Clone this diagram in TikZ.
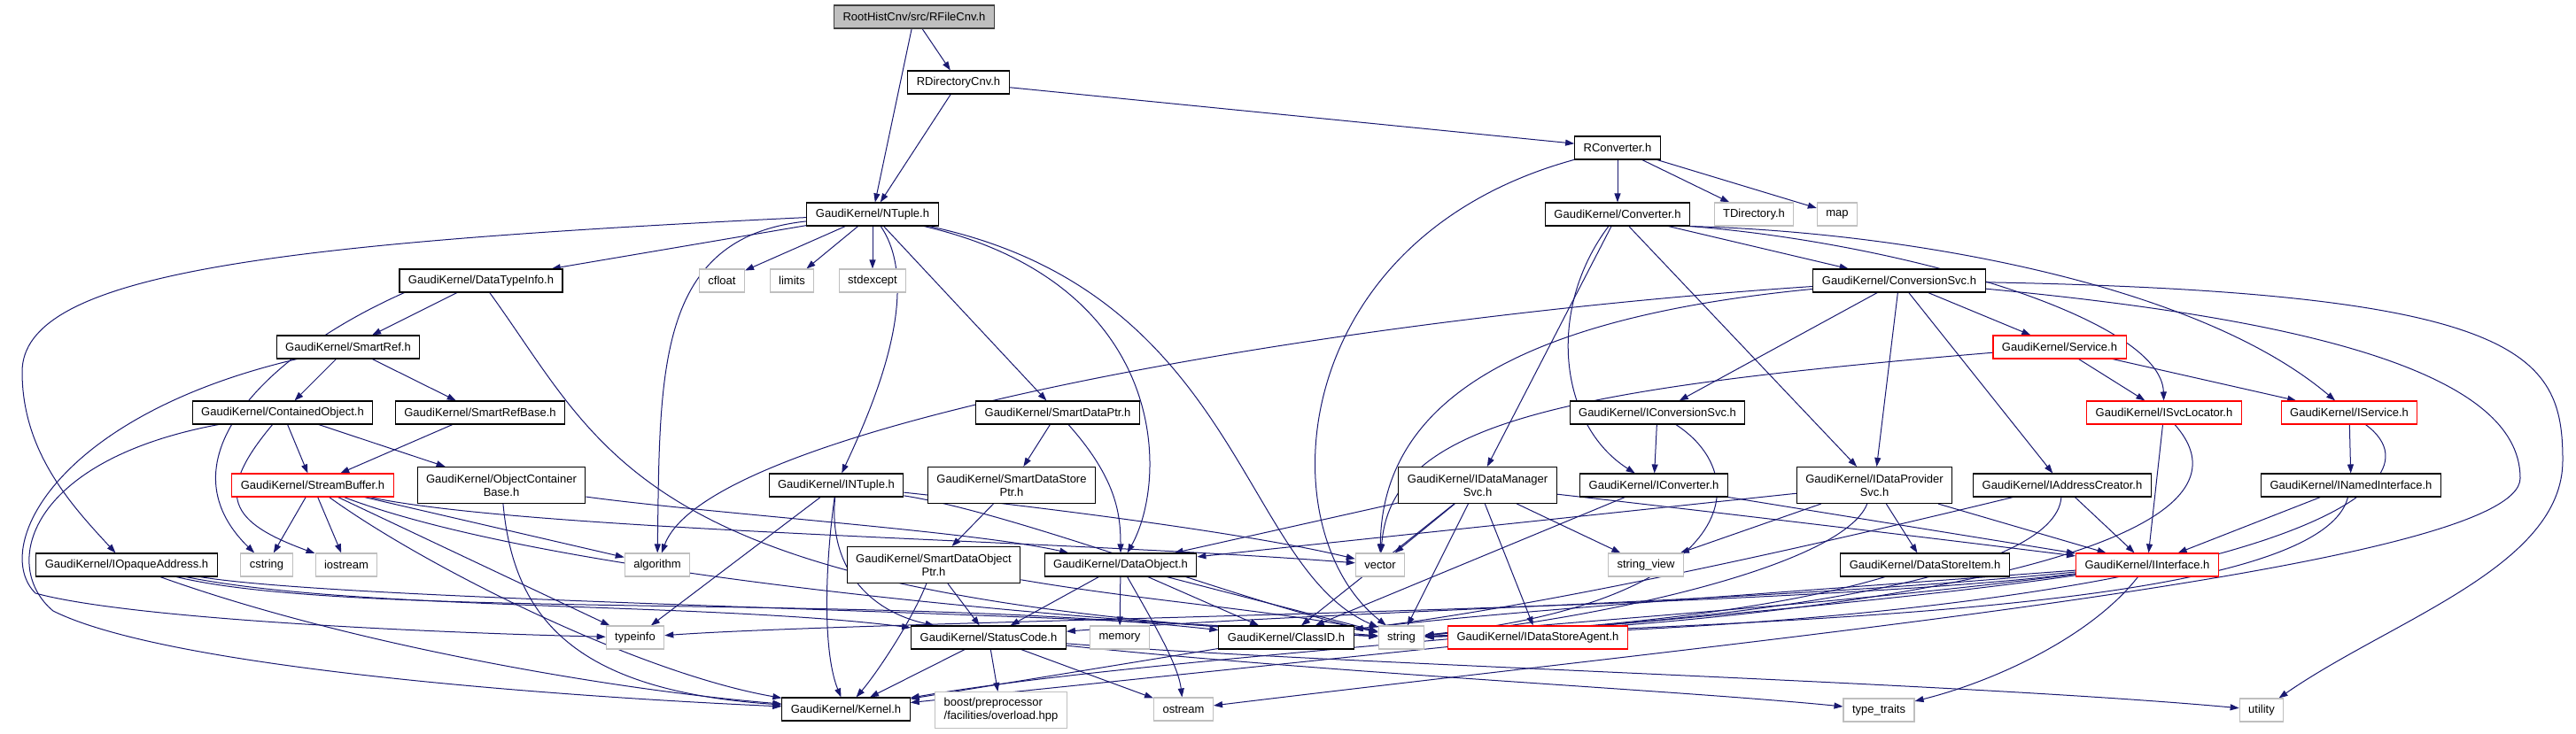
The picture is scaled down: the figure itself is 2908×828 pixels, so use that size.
\documentclass[tikz,border=0pt]{standalone}
\usepackage{fontspec}
\setmainfont{Liberation Sans}
\usetikzlibrary{arrows.meta, backgrounds}

\definecolor{edgeblue}{HTML}{191970}
\definecolor{sysgray}{HTML}{BFBFBF}
\definecolor{topdraw}{HTML}{404040}

\tikzset{
  hdr/.style={draw=black, rectangle, line width=1.1pt, fill=white,
    inner xsep=10pt, minimum height=26pt, font=\fontsize{13}{15}\selectfont},
  sys/.style={hdr, draw=sysgray},
  trunc/.style={hdr, draw=red},
  root/.style={hdr, fill=sysgray, draw=topdraw},
  twoline/.style={minimum height=41pt, align=center},
  dep/.style={draw=edgeblue, line width=1pt,
    -{Triangle[length=10pt, width=7pt, fill=edgeblue]}}
}

\begin{document}
\begin{tikzpicture}[x=1pt, y=-1pt]
  \useasboundingbox (0,0) rectangle (2908,828);

  % top rows
  \node[root] (rfile) at (1032,19) {RootHistCnv/src/RFileCnv.h};
  \node[hdr] (rdir) at (1082,93) {RDirectoryCnv.h};
  \node[hdr] (rconv) at (1826,167) {RConverter.h};
  \node[hdr] (ntuple) at (985,242) {GaudiKernel/NTuple.h};
  \node[hdr] (converter) at (1826,242) {GaudiKernel/Converter.h};
  \node[sys] (tdir) at (1980,242) {TDirectory.h};
  \node[sys] (map) at (2074,242) {map};

  \node[hdr] (datatypeinfo) at (543,317) {GaudiKernel/DataTypeInfo.h};
  \node[sys] (cfloat) at (815,317) {cfloat};
  \node[sys] (limits) at (894,317) {limits};
  \node[sys] (stdexcept) at (985,317) {stdexcept};
  \node[hdr] (conversionsvc) at (2144,317) {GaudiKernel/ConversionSvc.h};

  \node[hdr] (smartref) at (393,392) {GaudiKernel/SmartRef.h};
  \node[trunc] (service) at (2325,392) {GaudiKernel/Service.h};

  \node[hdr] (containedobject) at (319,466) {GaudiKernel/ContainedObject.h};
  \node[hdr] (smartrefbase) at (542,466) {GaudiKernel/SmartRefBase.h};
  \node[hdr] (smartdataptr) at (1194,466) {GaudiKernel/SmartDataPtr.h};
  \node[hdr] (iconversionsvc) at (1871,466) {GaudiKernel/IConversionSvc.h};
  \node[trunc] (isvclocator) at (2443,466) {GaudiKernel/ISvcLocator.h};
  \node[trunc] (iservice) at (2652,466) {GaudiKernel/IService.h};

  \node[trunc] (streambuffer) at (353,548) {GaudiKernel/StreamBuffer.h};
  \node[hdr, twoline] (objectcontainerbase) at (566,548) {GaudiKernel/ObjectContainer\\Base.h};
  \node[hdr] (intuple) at (944,548) {GaudiKernel/INTuple.h};
  \node[hdr, twoline] (smartdatastoreptr) at (1142,548) {GaudiKernel/SmartDataStore\\Ptr.h};
  \node[hdr, twoline] (idatamanagersvc) at (1668,548) {GaudiKernel/IDataManager\\Svc.h};
  \node[hdr] (iconverter) at (1867,548) {GaudiKernel/IConverter.h};
  \node[hdr, twoline] (idataprovidersvc) at (2116,548) {GaudiKernel/IDataProvider\\Svc.h};
  \node[hdr] (iaddresscreator) at (2328,548) {GaudiKernel/IAddressCreator.h};
  \node[hdr] (inamedinterface) at (2654,548) {GaudiKernel/INamedInterface.h};

  \node[hdr] (iopaqueaddress) at (143,638) {GaudiKernel/IOpaqueAddress.h};
  \node[sys] (cstring) at (301,638) {cstring};
  \node[sys] (iostream) at (391,638) {iostream};
  \node[sys] (algorithm) at (742,638) {algorithm};
  \node[hdr, twoline] (smartdataobjectptr) at (1054,638) {GaudiKernel/SmartDataObject\\Ptr.h};
  \node[hdr] (dataobject) at (1265,638) {GaudiKernel/DataObject.h};
  \node[sys] (vector) at (1558,638) {vector};
  \node[sys] (stringview) at (1858,638) {string\_view};
  \node[hdr] (datastoreitem) at (2173,638) {GaudiKernel/DataStoreItem.h};
  \node[trunc] (iinterface) at (2424,638) {GaudiKernel/IInterface.h};

  \node[sys] (typeinfo) at (717,720) {typeinfo};
  \node[hdr] (statuscode) at (1116,720) {GaudiKernel/StatusCode.h};
  \node[sys] (memory) at (1264,720) {memory};
  \node[hdr] (classid) at (1452,720) {GaudiKernel/ClassID.h};
  \node[sys] (string) at (1582,720) {string};
  \node[trunc] (idatastoreagent) at (1736,720) {GaudiKernel/IDataStoreAgent.h};

  \node[hdr] (kernel) at (955,801) {GaudiKernel/Kernel.h};
  \node[sys, twoline, align=left] (boost) at (1130,802) {boost/preprocessor\\/facilities/overload.hpp};
  \node[sys] (ostream) at (1336,801) {ostream};
  \node[sys] (typetraits) at (2121,802) {type\_traits};
  \node[sys] (utility) at (2553,802) {utility};

  \begin{scope}[on background layer]
    % RFileCnv, RDirectoryCnv, RConverter
    \draw[dep] (rfile) -- (rdir);
    \draw[dep] (rfile) -- (ntuple);
    \draw[dep] (rdir) -- (ntuple);
    \draw[dep] (rdir) -- (rconv);
    \draw[dep] (rconv) -- (converter);
    \draw[dep] (rconv) -- (tdir);
    \draw[dep] (rconv) -- (map);
    \draw[dep] (rconv) .. controls (1450,270) and (1430,600) .. (string);

    % Converter
    \draw[dep] (converter) -- (conversionsvc);
    \draw[dep] (converter.south east) .. controls (2150,275) and (2440,360) .. (isvclocator);
    \draw[dep] (converter.south east) .. controls (2150,262) and (2480,320) .. (iservice);
    \draw[dep] (converter) -- (idatamanagersvc);
    \draw[dep] (converter) .. controls (1745,350) and (1760,480) .. (iconverter);
    \draw[dep] (converter) -- (idataprovidersvc);

    % NTuple
    \draw[dep] (ntuple) .. controls (300,275) and (25,310) .. (25,420)
      .. controls (25,510) and (80,570) .. (iopaqueaddress);
    \draw[dep] (ntuple) -- (datatypeinfo);
    \draw[dep] (ntuple) -- (cfloat);
    \draw[dep] (ntuple) -- (limits);
    \draw[dep] (ntuple) -- (stdexcept);
    \draw[dep] (ntuple) .. controls (740,268) and (745,420) .. (algorithm);
    \draw[dep] (ntuple) .. controls (1045,330) and (980,470) .. (intuple);
    \draw[dep] (ntuple) -- (smartdataptr);
    \draw[dep] (ntuple) .. controls (1320,320) and (1320,540) .. (dataobject);
    \draw[dep] (ntuple) .. controls (1400,330) and (1400,640) .. (string);

    % DataTypeInfo, SmartRef, ContainedObject
    \draw[dep] (datatypeinfo) -- (smartref);
    \draw[dep] ([xshift=6pt]datatypeinfo.south west) .. controls (300,400) and (180,520) .. (cstring);
    \draw[dep] (datatypeinfo) .. controls (690,520) and (720,680) .. (string);
    \draw[dep] (smartref) -- (containedobject);
    \draw[dep] (smartref) -- (smartrefbase);
    \draw[dep] (smartref) .. controls (60,470) and (-10,620) .. (40,670)
      .. controls (150,700) and (500,715) .. (typeinfo);
    \draw[dep] (containedobject) -- (streambuffer);
    \draw[dep] (containedobject) -- (objectcontainerbase);
    \draw[dep] (containedobject) .. controls (240,560) and (260,590) .. (iostream);
    \draw[dep] (containedobject) .. controls (30,520) and (0,640) .. (60,690)
      .. controls (200,760) and (700,790) .. (kernel);
    \draw[dep] (smartrefbase) -- (streambuffer);

    % StreamBuffer
    \draw[dep] (streambuffer) -- (cstring);
    \draw[dep] (streambuffer) -- (iostream);
    \draw[dep] (streambuffer) -- (algorithm);
    \draw[dep] (streambuffer) -- (typeinfo);
    \draw[dep] (streambuffer) .. controls (480,640) and (720,760) .. (kernel);
    \draw[dep] (streambuffer) .. controls (620,650) and (1200,700) .. (string);
    \draw[dep] (streambuffer) .. controls (600,600) and (1200,610) .. (vector);

    % ObjectContainerBase, INTuple
    \draw[dep] (objectcontainerbase) .. controls (580,700) and (650,780) .. (kernel);
    \draw[dep] (objectcontainerbase) .. controls (800,580) and (1100,600) .. (dataobject);
    \draw[dep] (intuple) -- (typeinfo);
    \draw[dep] (intuple) .. controls (930,650) and (930,740) .. (kernel);
    \draw[dep] (intuple) .. controls (935,640) and (980,690) .. (statuscode);
    \draw[dep] (intuple) .. controls (1150,570) and (1400,600) .. (vector);
    \draw[dep] (intuple) .. controls (1150,580) and (1400,680) .. (string);

    % smart pointers
    \draw[dep] (smartdataptr) -- (smartdatastoreptr);
    \draw[dep] (smartdataptr) .. controls (1260,540) and (1265,580) .. (dataobject);
    \draw[dep] (smartdatastoreptr) -- (smartdataobjectptr);
    \draw[dep] (smartdataobjectptr) -- (statuscode);
    \draw[dep] (smartdataobjectptr) .. controls (1030,700) and (990,760) .. (kernel);
    \draw[dep] (smartdataobjectptr) .. controls (1300,680) and (1450,690) .. (string);

    % IOpaqueAddress
    \draw[dep] (iopaqueaddress) .. controls (400,730) and (700,780) .. (kernel);
    \draw[dep] (iopaqueaddress) .. controls (400,690) and (800,680) .. (statuscode);
    \draw[dep] (iopaqueaddress) .. controls (400,700) and (1000,670) .. (classid);
    \draw[dep] (iopaqueaddress) .. controls (400,680) and (1200,690) .. (string);

    % DataObject, StatusCode, ClassID
    \draw[dep] (dataobject) -- (statuscode);
    \draw[dep] (dataobject) -- (memory);
    \draw[dep] (dataobject) -- (classid);
    \draw[dep] (dataobject) .. controls (1300,700) and (1330,750) .. (ostream);
    \draw[dep] (dataobject) -- (string);
    \draw[dep] (statuscode) -- (kernel);
    \draw[dep] (statuscode) -- (boost);
    \draw[dep] (statuscode) -- (ostream);
    \draw[dep] (statuscode) .. controls (1500,760) and (1900,780) .. (typetraits);
    \draw[dep] (statuscode) .. controls (1500,750) and (2200,770) .. (utility);
    \draw[dep] (classid) -- (kernel);
    \draw[dep] (idatastoreagent) -- (kernel);

    % IDataManagerSvc, IConverter, IConversionSvc
    \draw[dep] (idatamanagersvc) -- (dataobject);
    \draw[dep] (idatamanagersvc) -- (vector);
    \draw[dep] (idatamanagersvc) -- (string);
    \draw[dep] (idatamanagersvc) -- (classid);
    \draw[dep] (idatamanagersvc) -- (idatastoreagent);
    \draw[dep] (idatamanagersvc) -- (stringview);
    \draw[dep] (idatamanagersvc) .. controls (1950,580) and (2200,610) .. (iinterface);
    \draw[dep] (iconverter) -- (classid);
    \draw[dep] (iconverter) -- (iinterface);
    \draw[dep] (iconversionsvc) -- (iconverter);
    \draw[dep] (iconversionsvc) .. controls (1985,540) and (1960,680) .. (string);

    % ConversionSvc
    \draw[dep] (conversionsvc) .. controls (1500,360) and (800,480) .. (algorithm);
    \draw[dep] (conversionsvc) .. controls (1700,360) and (1560,460) .. (vector);
    \draw[dep] (conversionsvc) -- (iconversionsvc);
    \draw[dep] (conversionsvc) -- (idataprovidersvc);
    \draw[dep] (conversionsvc) -- (iaddresscreator);
    \draw[dep] (conversionsvc) -- (service);
    \draw[dep] (conversionsvc) .. controls (2600,360) and (2845,420) .. (2845,540)
      .. controls (2845,640) and (2000,720) .. (ostream);
    \draw[dep] (conversionsvc) .. controls (2850,330) and (2893,400) .. (2893,520)
      .. controls (2893,640) and (2700,700) .. (utility);

    % Service and its interfaces
    \draw[dep] (service) -- (isvclocator);
    \draw[dep] (service) -- (iservice);
    \draw[dep] (service) .. controls (1750,440) and (1570,480) .. (vector);
    \draw[dep] (isvclocator) -- (iinterface);
    \draw[dep] (isvclocator) .. controls (2580,620) and (2100,700) .. (string);
    \draw[dep] (iservice) -- (inamedinterface);
    \draw[dep] (iservice) .. controls (2780,560) and (2500,700) .. (string);
    \draw[dep] (inamedinterface) -- (iinterface);
    \draw[dep] (inamedinterface) .. controls (2620,680) and (2100,700) .. (string);
    \draw[dep] (iaddresscreator) -- (iinterface);
    \draw[dep] (iaddresscreator) .. controls (1950,640) and (1700,690) .. (classid);
    \draw[dep] (iaddresscreator) .. controls (2320,650) and (2000,700) .. (string);

    % IDataProviderSvc, DataStoreItem
    \draw[dep] (idataprovidersvc) -- (iinterface);
    \draw[dep] (idataprovidersvc) -- (datastoreitem);
    \draw[dep] (idataprovidersvc) -- (stringview);
    \draw[dep] (idataprovidersvc) -- (dataobject);
    \draw[dep] (idataprovidersvc) .. controls (2080,640) and (1800,700) .. (string);
    \draw[dep] (datastoreitem) .. controls (2000,690) and (1800,710) .. (string);

    % IInterface
    \draw[dep] (iinterface) .. controls (2000,700) and (1300,740) .. (kernel);
    \draw[dep] (iinterface) .. controls (2000,680) and (1500,690) .. (statuscode);
    \draw[dep] (iinterface) .. controls (2000,670) and (1700,690) .. (classid);
    \draw[dep] (iinterface) .. controls (2100,680) and (1800,700) .. (string);
    \draw[dep] (iinterface) .. controls (2000,690) and (1000,700) .. (typeinfo);
    \draw[dep] (iinterface) .. controls (2360,720) and (2250,770) .. (typetraits);
  \end{scope}
\end{tikzpicture}
\end{document}
